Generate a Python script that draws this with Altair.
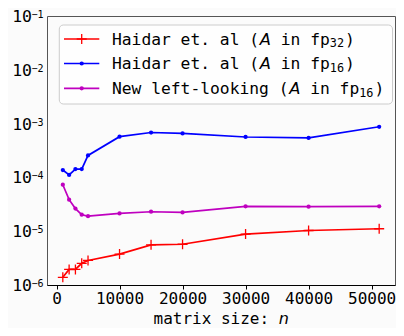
import altair as alt
import pandas as pd

# ---- data ----
ns = [1000, 2000, 3000, 4000, 5000, 10000, 15000, 20000, 30000, 40000, 51200]
err_fp32 = [1.39e-6, 1.95e-6, 1.95e-6, 2.53e-6, 2.86e-6, 3.75e-6, 5.57e-6, 5.72e-6, 8.85e-6, 1.03e-5, 1.11e-5]
err_fp16 = [1.37e-4, 1.11e-4, 1.43e-4, 1.43e-4, 2.56e-4, 5.72e-4, 6.83e-4, 6.56e-4, 5.64e-4, 5.42e-4, 8.73e-4]
err_left = [7.31e-5, 3.85e-5, 2.63e-5, 2.03e-5, 1.90e-5, 2.14e-5, 2.30e-5, 2.23e-5, 2.90e-5, 2.86e-5, 2.90e-5]

series_names = ["Haidar fp32", "Haidar fp16", "Left-looking fp16"]
series_colors = ["#ff0000", "#0000ff", "#bf00bf"]
legend_prefix = ["Haidar et. al (", "Haidar et. al (", "New left-looking ("]
legend_sub = ["32", "16", "16"]

x_ticks = [0, 10000, 20000, 30000, 40000, 50000]
y_decades = [1e-6, 1e-5, 1e-4, 1e-3, 1e-2, 1e-1]
y_exp_labels = ["\u22126", "\u22125", "\u22124", "\u22123", "\u22122", "\u22121"]

minor_ticks = [k * d for d in y_decades[:-1] for k in range(2, 10)]

rows = []
for name, vals in zip(series_names, [err_fp32, err_fp16, err_left]):
    for n, v in zip(ns, vals):
        rows.append({"n": n, "err": v, "series": name})
df = pd.DataFrame(rows)

W, H = 348, 269
MONO = "DejaVu Sans Mono"
FS = 16.3

xs = alt.Scale(domain=[-1510, 53710], nice=False, zero=False)
ys = alt.Scale(type="log", domain=[1e-6, 1e-1], nice=False)
color = alt.Color("series:N", scale=alt.Scale(domain=series_names, range=series_colors), legend=None)

decade_test = "abs(log(datum.value)/LN10 - round(log(datum.value)/LN10)) < 0.001"
axis_x = alt.Axis(values=x_ticks, format="d", title=None, grid=False, labelFont=MONO, labelFontSize=16,
                  labelColor="black", tickColor="black", tickSize=4, domainColor="black",
                  labelPadding=1, labelFlush=False)
axis_y = alt.Axis(values=sorted(y_decades + minor_ticks), labels=False, title=None, grid=True,
                  gridColor="#bdbdbd", gridWidth=1,
                  gridOpacity={"condition": {"test": decade_test, "value": 1}, "value": 0},
                  tickSize={"condition": {"test": decade_test, "value": 4}, "value": 2},
                  tickColor="black", domainColor="black")

base = alt.Chart(df).encode(
    x=alt.X("n:Q", scale=xs, axis=axis_x),
    y=alt.Y("err:Q", scale=ys, axis=axis_y),
    color=color,
)
lines = base.mark_line(strokeWidth=1.7)
plus = base.transform_filter(alt.datum.series == series_names[0]).mark_point(
    shape="M-1,0H1M0,-1V1", filled=False, size=100, strokeWidth=1.3, opacity=1)
dots = base.transform_filter(alt.datum.series != series_names[0]).mark_circle(size=18, opacity=1)

# y tick labels 10^k
ydf = pd.DataFrame({"v": y_decades, "sup": y_exp_labels})
ylab_main = alt.Chart(ydf).mark_text(font=MONO, fontSize=16.5, align="right", baseline="alphabetic",
                                     dy=6, color="black").encode(
    x=alt.value(-15), y=alt.Y("v:Q", scale=ys, axis=None), text=alt.value("10"))
ylab_sup = alt.Chart(ydf).mark_text(font=MONO, fontSize=10, align="left", baseline="alphabetic",
                                    dy=2, color="black").encode(
    x=alt.value(-15.5), y=alt.Y("v:Q", scale=ys, axis=None), text="sup:N")

one = pd.DataFrame({"a": [0]})

# axis title
TFS = 16
TY = H + 33.5
TX = W / 2 - 67.5
title1 = alt.Chart(one).mark_text(font=MONO, fontSize=TFS, align="left", baseline="middle",
                                  color="black").encode(
    x=alt.value(TX), y=alt.value(TY), text=alt.value("matrix size:"))
title2 = alt.Chart(one).mark_text(font="DejaVu Sans", fontStyle="italic", fontSize=TFS, align="left",
                                  baseline="middle", color="black").encode(
    x=alt.value(TX + 13 * 0.6021 * TFS), y=alt.value(TY), text=alt.value("n"))

# legend
legend_layers = [
    alt.Chart(one).mark_rect(fill="white", fillOpacity=0.8, stroke="#cccccc", strokeWidth=1,
                             cornerRadius=4).encode(
        x=alt.value(12.3), x2=alt.value(345.5), y=alt.value(9), y2=alt.value(88))
]
row_y = [23, 47.5, 72.3]
cw = 0.6021 * FS
sub_fs = 11.8
sw = 0.6021 * sub_fs
for i in range(3):
    ry = row_y[i]
    col = series_colors[i]
    legend_layers.append(alt.Chart(one).mark_rule(color=col, strokeWidth=1.7).encode(
        x=alt.value(17), x2=alt.value(52.3), y=alt.value(ry)))
    if i == 0:
        legend_layers.append(alt.Chart(one).mark_point(
            shape="M-1,0H1M0,-1V1", filled=False, size=100, strokeWidth=1.3, color=col, opacity=1
        ).encode(x=alt.value(34.7), y=alt.value(ry)))
    else:
        legend_layers.append(alt.Chart(one).mark_circle(size=18, color=col, opacity=1).encode(
            x=alt.value(34.7), y=alt.value(ry)))
    x0 = 65
    pre = legend_prefix[i]
    xa = x0 + len(pre) * cw + 0.5
    xr = xa + 11.2 + cw
    xs_ = xr + 5 * cw
    xc = xs_ + 2 * sw + 1
    base_y = ry + 5.8
    legend_layers += [
        alt.Chart(one).mark_text(font=MONO, fontSize=FS, align="left", baseline="alphabetic",
                                 color="black").encode(
            x=alt.value(x0), y=alt.value(base_y), text=alt.value(pre)),
        alt.Chart(one).mark_text(font="DejaVu Sans", fontStyle="italic", fontSize=FS, align="left",
                                 baseline="alphabetic", color="black").encode(
            x=alt.value(xa), y=alt.value(base_y), text=alt.value("A")),
        alt.Chart(one).mark_text(font=MONO, fontSize=FS, align="left", baseline="alphabetic",
                                 color="black").encode(
            x=alt.value(xr), y=alt.value(base_y), text=alt.value("in fp")),
        alt.Chart(one).mark_text(font=MONO, fontSize=sub_fs, align="left", baseline="alphabetic",
                                 color="black").encode(
            x=alt.value(xs_), y=alt.value(base_y + 2.5), text=alt.value(legend_sub[i])),
        alt.Chart(one).mark_text(font=MONO, fontSize=FS, align="left", baseline="alphabetic",
                                 color="black").encode(
            x=alt.value(xc), y=alt.value(base_y), text=alt.value(")")),
    ]

chart = alt.layer(lines, plus, dots, ylab_main, ylab_sup, title1, title2, *legend_layers).properties(
    width=W, height=H, autosize="none",
    padding={"left": 39, "top": 8, "right": 1, "bottom": 43},
    background="#fbfbfb",
).configure_view(stroke="#555555", strokeWidth=1)

chart.save("out.html", embed_options={"renderer": "svg", "actions": False})
